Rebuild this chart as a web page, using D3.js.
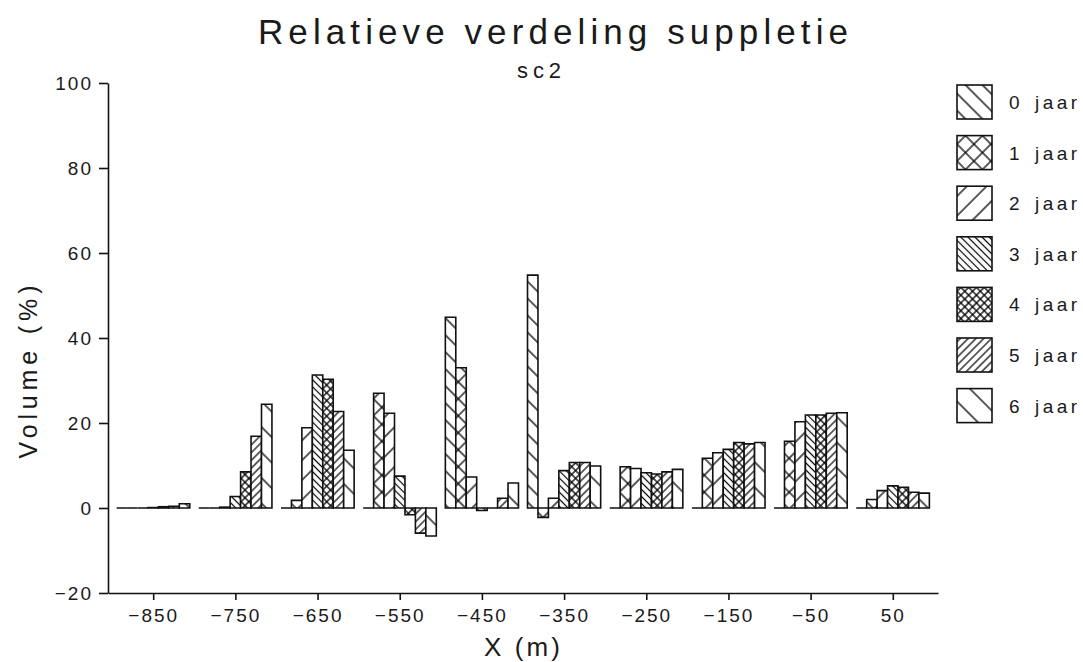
<!DOCTYPE html>
<html>
<head>
<meta charset="utf-8">
<script src="https://cdn.jsdelivr.net/npm/d3@7"></script>
<style>
  body { margin: 0; background: #fff; }
  text { font-family: "Liberation Sans", Arial, sans-serif; fill: #1a1a1a; }
</style>
</head>
<body>
<svg id="viz"></svg>
<script>
// Relatieve verdeling suppletie - sc2

// x positions of the groups (m)
const positions = [-850, -750, -650, -550, -450, -350, -250, -150, -50, 50];
const seriesNames = ["0 jaar", "1 jaar", "2 jaar", "3 jaar", "4 jaar", "5 jaar", "6 jaar"];

// volume (%) per series, one value per position
const jaar0 = [0, 0, 0, 0, 44.9, 54.8, 0, 0, 0, 0];
const jaar1 = [0, 0, 1.8, 27.0, 33.0, -2.2, 9.7, 11.7, 15.7, 2.0];
const jaar2 = [0, 0.2, 18.9, 22.3, 7.3, 2.3, 9.3, 13.0, 20.3, 4.1];
const jaar3 = [0.1, 2.7, 31.3, 7.5, -0.6, 8.8, 8.3, 13.8, 21.9, 5.2];
const jaar4 = [0.3, 8.5, 30.3, -1.6, 0, 10.7, 8.0, 15.4, 21.9, 4.9];
const jaar5 = [0.4, 16.9, 22.7, -5.9, 2.3, 10.7, 8.5, 15.1, 22.3, 3.7];
const jaar6 = [1.0, 24.4, 13.6, -6.6, 5.9, 9.9, 9.1, 15.4, 22.4, 3.5];

const yTicks = [-20, 0, 20, 40, 60, 80, 100];
const xTicks = [-850, -750, -650, -550, -450, -350, -250, -150, -50, 50];

const allSeries = [jaar0, jaar1, jaar2, jaar3, jaar4, jaar5, jaar6];

// hatch styles per series (angle, spacing, cross)
const hatches = [
  { angle: -45, gap: 12, cross: false, w: 1.3 },
  { angle: 45, gap: 12, cross: true, w: 1.3 },
  { angle: 45, gap: 14, cross: false, w: 1.3 },
  { angle: -45, gap: 5, cross: false, w: 1.2 },
  { angle: 45, gap: 5.5, cross: true, w: 1.3 },
  { angle: 45, gap: 5.5, cross: false, w: 1.2 },
  { angle: -45, gap: 18, cross: false, w: 1.3 }
];

const width = 1083, height = 662;
const svg = d3.select("#viz").attr("width", width).attr("height", height);
const defs = svg.append("defs");

hatches.forEach((h, i) => {
  const p = defs.append("pattern")
    .attr("id", "hatch" + i)
    .attr("patternUnits", "userSpaceOnUse")
    .attr("width", h.gap).attr("height", h.gap)
    .attr("patternTransform", `rotate(${h.angle})`);
  p.append("rect").attr("width", h.gap).attr("height", h.gap).attr("fill", "#fff");
  p.append("line")
    .attr("x1", h.gap / 2).attr("x2", h.gap / 2)
    .attr("y1", 0).attr("y2", h.gap)
    .attr("stroke", "#000").attr("stroke-width", h.w);
  if (h.cross) {
    p.append("line")
      .attr("y1", h.gap / 2).attr("y2", h.gap / 2)
      .attr("x1", 0).attr("x2", h.gap)
      .attr("stroke", "#000").attr("stroke-width", h.w);
  }
});

// scales
const x = d3.scaleLinear().domain([-905, 105]).range([108, 938]);
const y = d3.scaleLinear().domain([-20, 100]).range([593, 83]);
const inner = d3.scaleBand().domain(seriesNames).range([-44.5, 44.5]);

// bars
const barData = [];
allSeries.forEach((vals, si) => {
  vals.forEach((v, gi) => {
    barData.push({ series: si, name: seriesNames[si], pos: positions[gi], value: v });
  });
});

svg.append("g").attr("class", "bars")
  .selectAll("path")
  .data(barData)
  .enter()
  .append("path")
  .attr("d", d => {
    const x0 = x(d.pos + inner(d.name));
    const x1 = x(d.pos + inner(d.name) + inner.bandwidth());
    return `M${x0},${y(0)}H${x1}V${y(d.value)}H${x0}Z`;
  })
  .attr("fill", d => `url(#hatch${d.series})`)
  .attr("stroke", "#111")
  .attr("stroke-width", 1.6)
  .attr("stroke-linejoin", "miter");

// axes
const fmt = d => d < 0 ? "\u2212" + Math.abs(d) : String(d);

const yAxis = svg.append("g")
  .attr("transform", `translate(${x.range()[0]},0)`)
  .call(d3.axisLeft(y).tickValues(yTicks).tickSize(9).tickSizeOuter(0).tickPadding(6).tickFormat(fmt));

const xAxis = svg.append("g")
  .attr("transform", `translate(0,${y(-20)})`)
  .call(d3.axisBottom(x).tickValues(xTicks).tickSize(7).tickSizeOuter(0).tickPadding(9).tickFormat(fmt));

[yAxis, xAxis].forEach(a => {
  a.select(".domain").attr("stroke", "#111").attr("stroke-width", 1.6);
  a.selectAll(".tick line").attr("stroke", "#111").attr("stroke-width", 1.6);
  a.selectAll(".tick text")
    .style("font-family", "Liberation Sans, Arial, sans-serif")
    .style("font-size", "19px")
    .style("letter-spacing", "2px")
    .attr("fill", "#1a1a1a");
});

// titles
svg.append("text")
  .attr("x", 553).attr("y", 44)
  .attr("text-anchor", "middle")
  .attr("textLength", 590).attr("lengthAdjust", "spacing")
  .style("font-size", "35px")
  .text("Relatieve verdeling suppletie");

svg.append("text")
  .attr("x", 539).attr("y", 78)
  .attr("text-anchor", "middle")
  .attr("textLength", 44).attr("lengthAdjust", "spacing")
  .style("font-size", "22px")
  .text("sc2");

svg.append("text")
  .attr("x", 522).attr("y", 656)
  .attr("text-anchor", "middle")
  .attr("textLength", 76).attr("lengthAdjust", "spacing")
  .style("font-size", "26px")
  .text("X (m)");

svg.append("text")
  .attr("transform", "translate(37,372) rotate(-90)")
  .attr("text-anchor", "middle")
  .attr("textLength", 173).attr("lengthAdjust", "spacing")
  .style("font-size", "25px")
  .text("Volume (%)");

// legend
const legend = svg.append("g").attr("class", "legend")
  .selectAll("g")
  .data(seriesNames)
  .enter()
  .append("g")
  .attr("transform", (d, i) => `translate(957,${85 + i * 50.6})`);

legend.append("rect")
  .attr("width", 35).attr("height", 34)
  .attr("fill", (d, i) => `url(#hatch${i})`)
  .attr("stroke", "#111").attr("stroke-width", 1.6);

legend.append("text")
  .attr("x", 52).attr("y", 24)
  .style("font-size", "19px")
  .text(d => d.split(" ")[0]);

legend.append("text")
  .attr("x", 78).attr("y", 24)
  .attr("textLength", 42).attr("lengthAdjust", "spacing")
  .style("font-size", "19px")
  .text(d => d.split(" ")[1]);
</script>
</body>
</html>
